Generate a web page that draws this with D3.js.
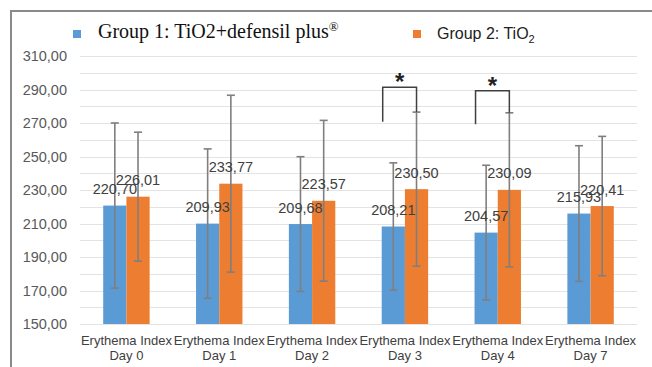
<!DOCTYPE html>
<html>
<head>
<meta charset="utf-8">
<script src="https://cdn.jsdelivr.net/npm/d3@7"></script>
<style>
  html, body { margin: 0; padding: 0; background: #fff; }
  svg { display: block; }
  text { font-family: "Liberation Sans", Arial, sans-serif; }
</style>
</head>
<body>
<svg id="chart" width="652" height="367"></svg>
<script>
// ---- data ----
const categories = ["Day 0", "Day 1", "Day 2", "Day 3", "Day 4", "Day 7"];
const categoryPrefix = "Erythema Index";
const seriesNames = ["Group 1", "Group 2"];
const group1 = [220.70, 209.93, 209.68, 208.21, 204.57, 215.93];
const group2 = [226.01, 233.77, 223.57, 230.50, 230.09, 220.41];
const group1Err = [49.3, 44.6, 40.2, 38.0, 40.2, 40.5];
const group2Err = [38.5, 52.8, 48.0, 46.0, 46.0, 41.6];
const yTicks = [150, 170, 190, 210, 230, 250, 270, 290, 310];
const yGrid = [150, 160, 170, 180, 190, 200, 210, 220, 230, 240, 250, 260, 270, 280, 290, 300, 310];
// significance brackets: category index, top value, left leg bottom value
const sigCats = [3, 4];
const sigTop = [291.3, 289.3];
const sigLeftBottom = [270.8, 269.2];

const colors = ["#5b9bd5", "#ed7d31"];
const fmt = v => v.toFixed(2).replace(".", ",");

const svg = d3.select("#chart");

// frame
svg.append("path")
  .attr("d", "M11,367 L11,11 L652,11")
  .attr("fill", "none").attr("stroke", "#8a8a8a").attr("stroke-width", 2);

const x = d3.scaleBand().domain(categories).range([80, 637]).paddingInner(0.5).paddingOuter(0.25);
const xs = d3.scaleBand().domain(seriesNames).range([0, x.bandwidth()]);
const y = d3.scaleLinear().domain([150, 310]).range([324, 56]);

// gridlines
svg.append("g").selectAll("line").data(yGrid).join("line")
  .attr("x1", 80).attr("x2", 637)
  .attr("y1", d => Math.round(y(d)) + 0.5).attr("y2", d => Math.round(y(d)) + 0.5)
  .attr("stroke", "#e3e3e3").attr("stroke-width", 1);

// y axis labels
const yAxis = d3.axisLeft(y).tickValues(yTicks).tickFormat(fmt).tickSize(0).tickPadding(0);
const yg = svg.append("g").attr("transform", "translate(67,0)").call(yAxis);
yg.select(".domain").remove();
yg.selectAll("text").attr("fill", "#595959").style("font-size", "14.5px")
  .style("font-family", "'Liberation Sans', Arial, sans-serif");

// x axis labels
const xAxis = d3.axisBottom(x).tickSize(0).tickFormat("");
const xg = svg.append("g").attr("transform", "translate(0,324)").call(xAxis);
xg.select(".domain").remove();
xg.selectAll(".tick").each(function(d) {
  const t = d3.select(this).append("text").attr("text-anchor", "middle")
    .attr("fill", "#404040").style("font-size", "13px");
  t.append("tspan").attr("x", 0).attr("y", 21).text(categoryPrefix);
  t.append("tspan").attr("x", 0).attr("y", 36).text(d);
});

// bars
const seriesData = [group1, group2];
const errData = [group1Err, group2Err];
seriesData.forEach((vals, si) => {
  const g = svg.append("g");
  g.selectAll("rect").data(vals).join("rect")
    .attr("x", (d, i) => x(categories[i]) + xs(seriesNames[si]))
    .attr("width", xs.bandwidth())
    .attr("y", d => y(d))
    .attr("height", d => y(150) - y(d))
    .attr("fill", colors[si]);
});

// error bars
seriesData.forEach((vals, si) => {
  const g = svg.append("g").attr("stroke", "#7f7f7f").attr("stroke-width", 1.6).attr("fill", "none");
  vals.forEach((v, i) => {
    const cx = x(categories[i]) + xs(seriesNames[si]) + xs.bandwidth() / 2;
    const hi = y(v + errData[si][i]), lo = y(v - errData[si][i]);
    g.append("line").attr("x1", cx).attr("x2", cx).attr("y1", hi).attr("y2", lo);
    g.append("line").attr("x1", cx - 4).attr("x2", cx + 4).attr("y1", hi).attr("y2", hi);
    g.append("line").attr("x1", cx - 4).attr("x2", cx + 4).attr("y1", lo).attr("y2", lo);
  });
});

// data labels
seriesData.forEach((vals, si) => {
  svg.append("g").selectAll("text").data(vals).join("text")
    .attr("x", (d, i) => x(categories[i]) + xs(seriesNames[si]) + xs.bandwidth() / 2)
    .attr("y", d => y(d) - 11.5)
    .attr("text-anchor", "middle")
    .attr("fill", "#404040").style("font-size", "14.5px")
    .text(d => fmt(d));
});

// significance brackets
sigCats.forEach((ci, k) => {
  const xl = x(categories[ci]) + xs(seriesNames[0]) + 1;
  const xr = x(categories[ci]) + xs(seriesNames[1]) + xs.bandwidth() / 2;
  const yt = y(sigTop[k]);
  const yl = y(sigLeftBottom[k]);
  const yr = y(group2[ci] + group2Err[ci]);
  svg.append("path")
    .attr("d", `M${xl},${yl} L${xl},${yt} L${xr},${yt} L${xr},${yr}`)
    .attr("fill", "none").attr("stroke", "#404040").attr("stroke-width", 1.5);
  svg.append("text").attr("x", (xl + xr) / 2).attr("y", yt + 3)
    .attr("text-anchor", "middle").attr("fill", "#222")
    .style("font-size", "24px").style("font-weight", "bold")
    .text("*");
});

// legend
const lg = svg.append("g");
lg.append("rect").attr("x", 73).attr("y", 30).attr("width", 8).attr("height", 8).attr("fill", colors[0]);
const t1 = lg.append("text").attr("x", 98).attr("y", 37.5).attr("fill", "#111")
  .style("font-family", "'Liberation Serif', 'Times New Roman', serif").style("font-size", "20px");
t1.append("tspan").text("Group 1: TiO2+defensil plus");
t1.append("tspan").attr("dy", -7).style("font-size", "13px").text("®");

lg.append("rect").attr("x", 413).attr("y", 30).attr("width", 8).attr("height", 8).attr("fill", colors[1]);
const t2 = lg.append("text").attr("x", 437).attr("y", 39).attr("fill", "#222").style("font-size", "16px");
t2.append("tspan").text("Group 2: TiO");
t2.append("tspan").attr("dy", 4).style("font-size", "11px").text("2");
</script>
</body>
</html>
